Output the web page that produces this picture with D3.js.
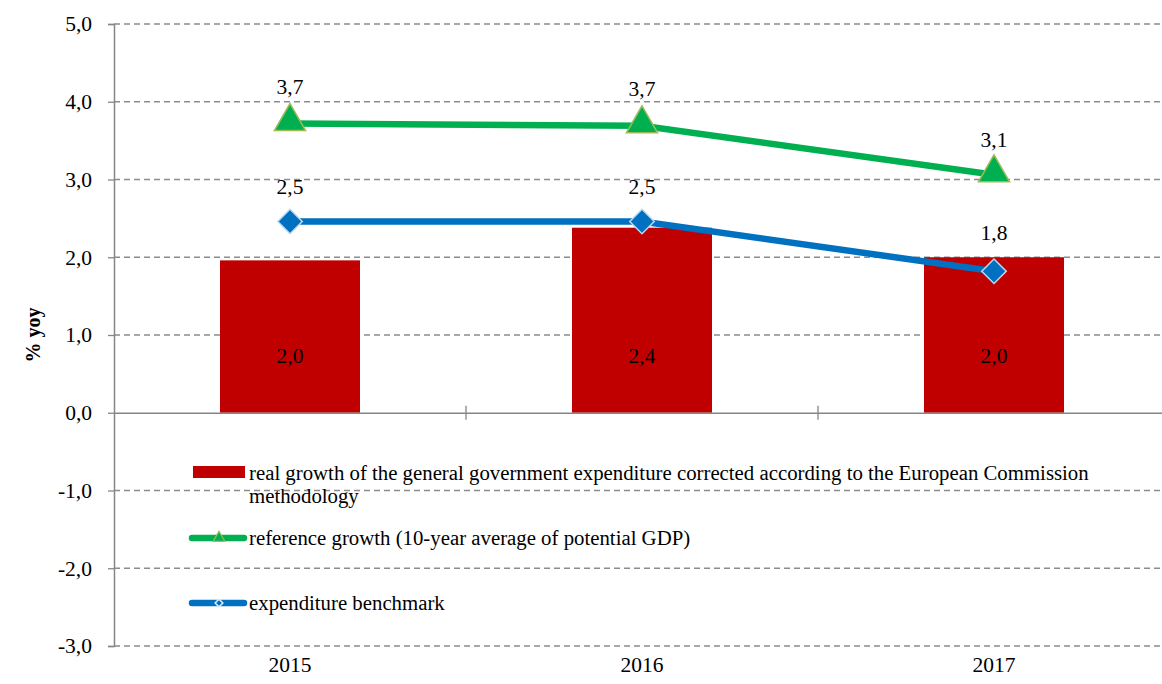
<!DOCTYPE html>
<html><head><meta charset="utf-8">
<script src="https://cdn.jsdelivr.net/npm/d3@7"></script>
<style>body{margin:0;background:#fff}svg{display:block}</style>
</head><body>
<svg id="c" width="1162" height="684"></svg>
<script>
const categories = ["2015", "2016", "2017"];
const barValues = [1.96, 2.38, 2.0];
const barLabels = ["2,0", "2,4", "2,0"];
const refValues = [3.72, 3.69, 3.06];
const refLabels = ["3,7", "3,7", "3,1"];
const benchValues = [2.46, 2.46, 1.82];
const benchLabels = ["2,5", "2,5", "1,8"];
const yTicks = [-3, -2, -1, 0, 1, 2, 3, 4, 5];
const seriesNames = [
  ["real growth of the general government expenditure corrected according to the European Commission", "methodology"],
  ["reference growth (10-year average of potential GDP)"],
  ["expenditure benchmark"]
];

const svg = d3.select("#c");
const font = "'Liberation Serif', 'Times New Roman', serif";
const x = d3.scaleBand().domain(categories).range([114, 1170]).paddingInner(0).paddingOuter(0);
const y = d3.scaleLinear().domain([-3, 5]).range([646, 24]);
const cx = d => x(d) + x.bandwidth() / 2;
const fmt = d => (d < 0 ? "-" : "") + d3.format(".1f")(Math.abs(d)).replace(".", ",");

// gridlines
svg.append("g").selectAll("line").data(yTicks.filter(t => t !== 0)).join("line")
  .attr("x1", 114).attr("x2", 1170).attr("y1", d => y(d)).attr("y2", d => y(d))
  .attr("stroke", "#8c8c8c").attr("stroke-width", 1.3).attr("stroke-dasharray", "6,4");

// y axis
const yAxis = d3.axisLeft(y).tickValues(yTicks).tickSize(6).tickFormat(fmt);
const gy = svg.append("g").attr("transform", "translate(114,0)").call(yAxis);
gy.select(".domain").attr("stroke", "#868686").attr("stroke-width", 1.5);
gy.selectAll(".tick line").attr("stroke", "#868686").attr("stroke-width", 1.3);
gy.selectAll(".tick text").attr("font-family", font).attr("font-size", 21.5).attr("fill", "#000").attr("x", -22);

// bars
svg.append("g").selectAll("rect").data(categories).join("rect")
  .attr("x", d => cx(d) - 70).attr("width", 140)
  .attr("y", (d, i) => y(barValues[i])).attr("height", (d, i) => y(0) - y(barValues[i]))
  .attr("fill", "#C00000");

// x axis at zero
const xAxis = d3.axisBottom(x).tickSize(0).tickFormat("");
const gx = svg.append("g").attr("transform", `translate(0,${y(0)})`).call(xAxis);
gx.select(".domain").attr("stroke", "#868686").attr("stroke-width", 1.5);
svg.append("g").selectAll("line").data(categories.slice(1)).join("line")
  .attr("x1", d => x(d)).attr("x2", d => x(d)).attr("y1", y(0) - 7).attr("y2", y(0) + 7)
  .attr("stroke", "#868686").attr("stroke-width", 1.3);

// category labels
svg.append("g").selectAll("text").data(categories).join("text")
  .attr("x", d => cx(d)).attr("y", 672).attr("text-anchor", "middle")
  .attr("font-family", font).attr("font-size", 21.5).text(d => d);

// bar labels
svg.append("g").selectAll("text").data(categories).join("text")
  .attr("x", d => cx(d)).attr("y", y(0.74)).attr("dy", "0.35em").attr("text-anchor", "middle")
  .attr("font-family", font).attr("font-size", 21.5).text((d, i) => barLabels[i]);

const line = d3.line().x(d => cx(d[0])).y(d => y(d[1]));

// reference line
svg.append("path").datum(categories.map((c, i) => [c, refValues[i]])).attr("d", line)
  .attr("fill", "none").attr("stroke", "#00B050").attr("stroke-width", 6.5);
const tri = d3.symbol().type(d3.symbolTriangle).size(420);
svg.append("g").selectAll("path").data(categories).join("path")
  .attr("d", tri).attr("transform", (d, i) => `translate(${cx(d)},${y(refValues[i]) - 2})`)
  .attr("fill", "#00B050").attr("stroke", "#9BBB59").attr("stroke-width", 1.5);
svg.append("g").selectAll("text").data(categories).join("text")
  .attr("x", d => cx(d)).attr("y", (d, i) => y(refValues[i]) - (i === 2 ? 28 : 30))
  .attr("text-anchor", "middle").attr("font-family", font).attr("font-size", 21.5)
  .text((d, i) => refLabels[i]);

// benchmark line
svg.append("path").datum(categories.map((c, i) => [c, benchValues[i]])).attr("d", line)
  .attr("fill", "none").attr("stroke", "#0070C0").attr("stroke-width", 6.5);
const dia = d3.symbol().type(d3.symbolSquare).size(300);
svg.append("g").selectAll("path").data(categories).join("path")
  .attr("d", dia).attr("transform", (d, i) => `translate(${cx(d)},${y(benchValues[i])}) rotate(45)`)
  .attr("fill", "#0070C0").attr("stroke", "#BDD7EE").attr("stroke-width", 1.5);
svg.append("g").selectAll("text").data(categories).join("text")
  .attr("x", d => cx(d)).attr("y", (d, i) => y(benchValues[i]) - (i === 2 ? 31 : 27))
  .attr("text-anchor", "middle").attr("font-family", font).attr("font-size", 21.5)
  .text((d, i) => benchLabels[i]);

// y axis title
svg.append("text").attr("transform", "translate(40,335) rotate(-90)").attr("text-anchor", "middle")
  .attr("font-family", font).attr("font-size", 20).attr("font-weight", "bold").text("% yoy");

// legend
const lg = svg.append("g").attr("font-family", font).attr("font-size", 20.8);
lg.append("rect").attr("x", 193).attr("y", 466).attr("width", 52).attr("height", 12).attr("fill", "#C00000");
lg.append("text").attr("x", 249).attr("y", 480).text(seriesNames[0][0]);
lg.append("text").attr("x", 249).attr("y", 503).text(seriesNames[0][1]);

lg.append("line").attr("x1", 192).attr("x2", 244).attr("y1", 538).attr("y2", 538)
  .attr("stroke", "#00B050").attr("stroke-width", 6.5).attr("stroke-linecap", "round");
lg.append("path").attr("d", d3.symbol().type(d3.symbolTriangle).size(60))
  .attr("transform", "translate(219,538)").attr("fill", "#00B050").attr("stroke", "#9BBB59").attr("stroke-width", 1.2);
lg.append("text").attr("x", 249).attr("y", 545).text(seriesNames[1][0]);

lg.append("line").attr("x1", 192).attr("x2", 244).attr("y1", 603).attr("y2", 603)
  .attr("stroke", "#0070C0").attr("stroke-width", 6.5).attr("stroke-linecap", "round");
lg.append("path").attr("d", d3.symbol().type(d3.symbolSquare).size(30))
  .attr("transform", "translate(219,603) rotate(45)").attr("fill", "#0070C0").attr("stroke", "#DEEBF7").attr("stroke-width", 1.5);
lg.append("text").attr("x", 249).attr("y", 610).text(seriesNames[2][0]);
</script>
</body></html>
